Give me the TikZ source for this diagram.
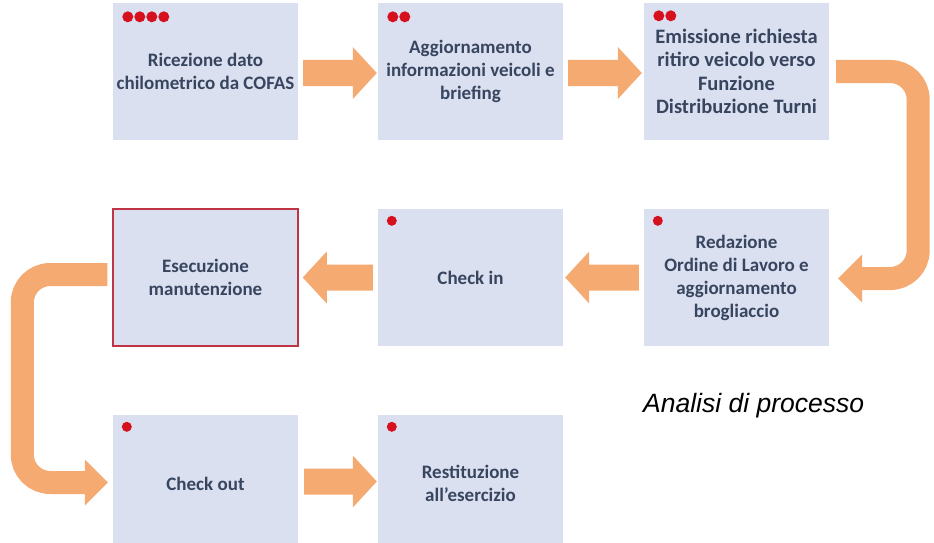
\documentclass[tikz,border=0pt]{standalone}
\usepackage{fontspec}
\setmainfont{Carlito}
\newfontfamily\capfont{Liberation Sans}
\usetikzlibrary{calc}
\definecolor{boxc}{HTML}{DAE0F0}
\definecolor{txtc}{HTML}{38455F}
\definecolor{arrc}{HTML}{F5AA72}
\definecolor{dotc}{HTML}{D7101E}
\definecolor{redb}{HTML}{C03546}
\tikzset{
  stepbox/.style={rectangle, fill=boxc, minimum width=185pt, minimum height=137pt,
    inner sep=0pt, align=center, text=txtc,
    font=\fontsize{19}{23}\selectfont\bfseries},
  arr/.style={fill=arrc, draw=none},
  uline/.style={draw=arrc, line width=23pt, rounded corners=28pt},
  rdot/.style={fill=dotc}
}
\newcommand\blockR[2]{%
  \fill[arr] ($(#1)+(0,-13)$) -- ($(#2)+(-24,-13)$) -- ($(#2)+(-24,-26)$) -- (#2)
    -- ($(#2)+(-24,26)$) -- ($(#2)+(-24,13)$) -- ($(#1)+(0,13)$) -- cycle;}
\newcommand\blockL[2]{%
  \fill[arr] ($(#1)+(0,-13)$) -- ($(#2)+(24,-13)$) -- ($(#2)+(24,-26)$) -- (#2)
    -- ($(#2)+(24,26)$) -- ($(#2)+(24,13)$) -- ($(#1)+(0,13)$) -- cycle;}
\begin{document}
\begin{tikzpicture}[x=1pt,y=-1pt]
\clip (0,0) rectangle (934,543);
\fill[white] (0,0) rectangle (934,543);
% boxes
\node[stepbox] (b1) at (205.5,71.5) {Ricezione dato\\chilometrico da COFAS};
\node[stepbox] (b2) at (470.5,71.5) {Aggiornamento\\informazioni veicoli e\\briefing};
\node[stepbox, font=\fontsize{20.5}{23.5}\selectfont\bfseries] (b3) at (736.5,71.5) {Emissione richiesta\\ritiro veicolo verso\\Funzione\\Distribuzione Turni};
\node[stepbox] (b4) at (736.5,277.5) {Redazione\\Ordine di Lavoro e\\aggiornamento\\brogliaccio};
\node[stepbox] (b5) at (470.5,277.5) {Check in};
\node[stepbox, draw=redb, line width=1.5pt] (b6) at (205.5,277.5) {Esecuzione\\manutenzione};
\node[stepbox] (b7) at (205.5,483.5) {Check out};
\node[stepbox] (b8) at (470.5,483.5) {Restituzione\\all’esercizio};
% dots
\foreach \i in {0,1,2,3} \fill[rdot] ($(b1.north west)+(15+12*\i,14)$) circle (5.5pt);
\foreach \i in {0,1} \fill[rdot] ($(b2.north west)+(15+12*\i,14)$) circle (5.5pt);
\foreach \i in {0,1} \fill[rdot] ($(b3.north west)+(15+12*\i,13)$) circle (5.5pt);
\foreach \n in {b4,b5,b7,b8} \fill[rdot] ($(\n.north west)+(14,12)$) circle (5pt);
% straight arrows
\blockR{$(b1.east)+(5,1.5)$}{$(b2.west)+(-1,1.5)$}
\blockR{$(b2.east)+(5,1.5)$}{$(b3.west)+(-2,1.5)$}
\blockL{$(b4.west)+(-5,0)$}{$(b5.east)+(2,0)$}
\blockL{$(b5.west)+(-5,0)$}{$(b6.east)+(4,0)$}
\blockR{$(b7.east)+(6,-2)$}{$(b8.west)+(-1,-2)$}
% right U-turn
\draw[uline] ($(b3.east)+(7,0)$) -- ++(82,0) |- ($(b4.east)+(32,1)$);
\fill[arr] ($(b4.east)+(33,-23)$) -- ($(b4.east)+(9,1)$) -- ($(b4.east)+(33,25)$) -- cycle;
% left U-turn
\draw[uline] ($(b6.west)+(-5,-3)$) -- ++(-85,0) |- ($(b7.west)+(-27,-1)$);
\fill[arr] ($(b7.west)+(-28,-24)$) -- ($(b7.west)+(-5,-1)$) -- ($(b7.west)+(-28,22)$) -- cycle;
% caption
\node[anchor=base west, inner sep=0pt, font=\capfont\itshape\fontsize{26.5}{30}\selectfont] (cap) at (643,412) {Analisi di processo};
\end{tikzpicture}
\end{document}
